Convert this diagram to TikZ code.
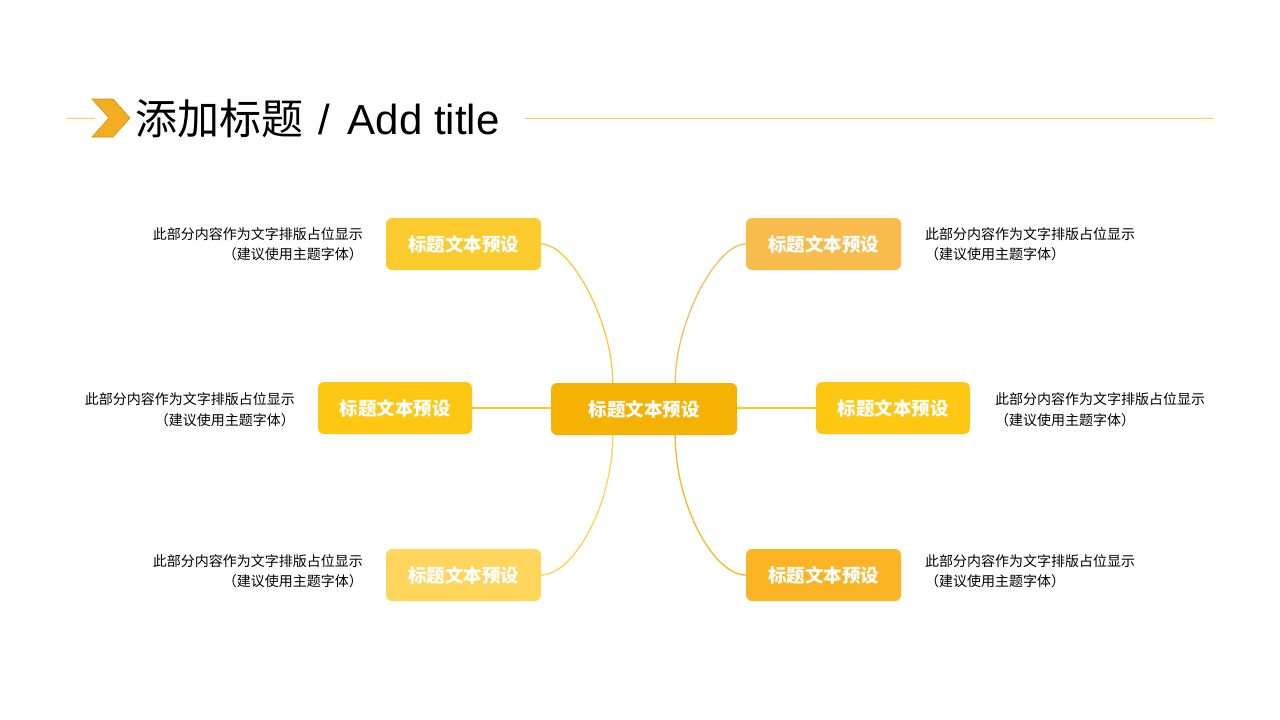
\documentclass[tikz,border=0pt]{standalone}
\usepackage{fontspec}
\setmainfont{Liberation Sans}
\newfontfamily\cjk{Noto Sans CJK SC}
\usetikzlibrary{calc}
\definecolor{cC}{HTML}{F6B203}
\definecolor{cTL}{HTML}{FCCB2E}
\definecolor{cTR}{HTML}{F8BB4C}
\definecolor{cML}{HTML}{FEC712}
\definecolor{cBL}{HTML}{FFD65C}
\definecolor{cBR}{HTML}{FBB424}
\definecolor{lTL}{HTML}{F8CA3A}
\definecolor{lTR}{HTML}{F3BE5C}
\definecolor{lBL}{HTML}{FDD258}
\definecolor{lBR}{HTML}{F6B726}
\definecolor{lM}{HTML}{FDC81A}
\definecolor{titleline}{HTML}{F7CE46}
\definecolor{chev}{HTML}{F2AE1E}
\definecolor{chevd}{HTML}{D0900E}
\tikzset{
  box/.style={rounded corners=6pt, minimum width=155pt, minimum height=52pt, inner sep=0pt,
    text=white, font=\cjk\bfseries\fontsize{18.5}{20}\selectfont},
  desc/.style={inner sep=0pt, font=\cjk\fontsize{14}{20.5}\selectfont, text=black},
  link/.style={line width=1.3pt}
}
\begin{document}
\begin{tikzpicture}[x=1pt,y=-1pt]
\useasboundingbox (0,0) rectangle (1280,720);
\fill[white] (0,0) rectangle (1280,720);
% title
\draw[titleline, line width=0.8pt] (67,118) -- (95,118);
\draw[titleline, line width=0.8pt] (525,118) -- (1213,118);
\filldraw[fill=chev, draw=chevd, line width=0.6pt] (92,99) -- (113,99) -- (130,118) -- (113,137) -- (92,137) -- (109,118) -- cycle;
\node[anchor=base west, inner sep=0pt] (title) at (135,134)
  {{\cjk\fontsize{42}{46}\selectfont 添加标题}\hspace{15pt}{\fontsize{42}{46}\selectfont /}\hspace{18pt}{\fontsize{42}{46}\selectfont Add title}};
% nodes
\node[box, fill=cC, minimum width=186pt] (C) at (644,409) {标题文本预设};
\node[box, fill=cTL] (TL) at (463.5,244) {标题文本预设};
\node[box, fill=cTR] (TR) at (823.5,244) {标题文本预设};
\node[box, fill=cML, minimum width=154pt] (ML) at (395,408) {标题文本预设};
\node[box, fill=cML, minimum width=154pt] (MR) at (893,408) {标题文本预设};
\node[box, fill=cBL] (BL) at (463.5,575) {标题文本预设};
\node[box, fill=cBR] (BR) at (823.5,575) {标题文本预设};
% attach points
\coordinate (ctl) at ($(C.north west)+(62,0)$);
\coordinate (ctr) at ($(C.north east)+(-62,0)$);
\coordinate (cbl) at ($(C.south west)+(62,0)$);
\coordinate (cbr) at ($(C.south east)+(-62,0)$);
% connectors
\draw[link, lTL] (TL.east) .. controls +(30,0) and +(0,-60) .. (ctl);
\draw[link, lTR] (TR.west) .. controls +(-30,0) and +(0,-60) .. (ctr);
\draw[link, lBL] (BL.east) .. controls +(32,0) and +(0,70) .. (cbl);
\draw[link, lBR] (BR.west) .. controls +(-32,0) and +(0,70) .. (cbr);
\draw[link, lM] (ML.east) -- (ML.east -| C.west);
\draw[link, lM] (MR.west) -- (MR.west -| C.east);
% descriptions
\node[desc, anchor=east, align=right] (dTL) at (363,244) {此部分内容作为文字排版占位显示\\（建议使用主题字体）};
\node[desc, anchor=west, align=left] (dTR) at (925,244) {此部分内容作为文字排版占位显示\\（建议使用主题字体）};
\node[desc, anchor=east, align=right] (dML) at (295,409.5) {此部分内容作为文字排版占位显示\\（建议使用主题字体）};
\node[desc, anchor=west, align=left] (dMR) at (995,409.5) {此部分内容作为文字排版占位显示\\（建议使用主题字体）};
\node[desc, anchor=east, align=right] (dBL) at (363,571) {此部分内容作为文字排版占位显示\\（建议使用主题字体）};
\node[desc, anchor=west, align=left] (dBR) at (925,571) {此部分内容作为文字排版占位显示\\（建议使用主题字体）};
\end{tikzpicture}
\end{document}
